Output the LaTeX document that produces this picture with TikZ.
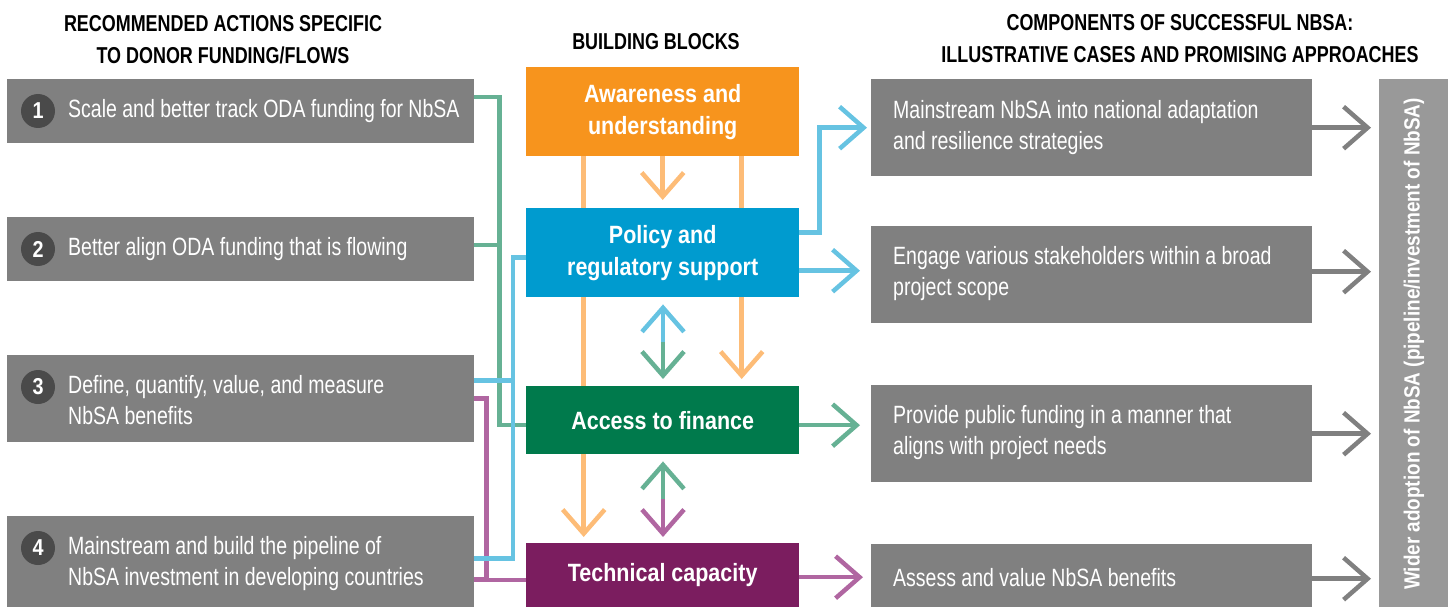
\documentclass[tikz,border=0pt]{standalone}
\usepackage{fontspec}
\setmainfont[FakeStretch=0.78,BoldFeatures={FakeStretch=0.86}]{Liberation Sans}
\newfontfamily\hfont[FakeStretch=0.78]{Liberation Sans}
\newfontfamily\vfont[FakeStretch=0.86]{Liberation Sans}
\usetikzlibrary{arrows.meta}
\pgfdeclarelayer{background}
\pgfsetlayers{background,main}
\definecolor{boxgray}{HTML}{808080}
\definecolor{circgray}{HTML}{4A4A4A}
\definecolor{orB}{HTML}{F7941D}
\definecolor{blB}{HTML}{009BCF}
\definecolor{grB}{HTML}{007A4C}
\definecolor{puB}{HTML}{7B1D5F}
\definecolor{lor}{HTML}{FDBC77}
\definecolor{lbl}{HTML}{66C3E2}
\definecolor{lgr}{HTML}{66B194}
\definecolor{lpu}{HTML}{B066A1}
\definecolor{bargray}{HTML}{999999}
\tikzset{
  lbox/.style={fill=boxgray, inner sep=0pt, anchor=north west},
  btxt/.style={text=white, anchor=west, align=left, inner sep=0pt, font=\fontsize{25}{31}\selectfont},
  num/.style={circle, fill=circgray, minimum size=34pt, inner sep=0pt, text=white, font=\fontsize{23}{23}\selectfont\bfseries},
  blk/.style={inner sep=0pt, anchor=north west, minimum width=273pt, text=white, align=center, font=\fontsize{25}{32}\selectfont\bfseries},
  head/.style={align=center, font=\fontsize{23}{32}\selectfont\hfont\bfseries},
  conn/.style={line width=4.5pt},
  arr/.style={-{Straight Barb[length=24pt,width=42pt,line width=4.5pt,sharp]}},
}
\begin{document}
\begin{tikzpicture}[x=1pt,y=-1pt]
\useasboundingbox (0,0) rectangle (1448,607);
% headers
\node[head] (h1) at (223,40) {RECOMMENDED ACTIONS SPECIFIC\\TO DONOR FUNDING/FLOWS};
\node[head] (h2) at (656,42) {BUILDING BLOCKS};
\node[head] (h3) at (1180,39) {COMPONENTS OF SUCCESSFUL NBSA:\\ILLUSTRATIVE CASES AND PROMISING APPROACHES};
% left boxes
\node[lbox, minimum width=467pt, minimum height=64pt] (b1) at (7,79) {};
\node[lbox, minimum width=467pt, minimum height=64pt] (b2) at (7,217) {};
\node[lbox, minimum width=467pt, minimum height=87pt] (b3) at (7,355) {};
\node[lbox, minimum width=467pt, minimum height=91pt] (b4) at (7,516) {};
\node[num] (n1) at (38,111) {1};
\node[num] (n2) at (38,249) {2};
\node[num] (n3) at (38,387) {3};
\node[num] (n4) at (38,548) {4};
\node[btxt] (t1) at (68,111) {Scale and better track ODA funding for NbSA};
\node[btxt] (t2) at (68,249) {Better align ODA funding that is flowing};
\node[btxt] (t3) at (68,400) {Define, quantify, value, and measure\\NbSA benefits};
\node[btxt] (t4) at (68,564) {Mainstream and build the pipeline of\\NbSA investment in developing countries};
% building blocks
\node[blk, fill=orB, minimum height=89pt] (aw) at (526,67) {Awareness and\\understanding};
\node[blk, fill=blB, minimum height=89pt] (pol) at (526,208) {Policy and\\regulatory support};
\node[blk, fill=grB, minimum height=68pt] (acc) at (526,386) {Access to finance};
\node[blk, fill=puB, minimum height=64pt] (tech) at (526,543) {Technical capacity};
% right boxes
\node[lbox, minimum width=441pt, minimum height=97pt] (r1) at (871,79) {};
\node[lbox, minimum width=441pt, minimum height=97pt] (r2) at (871,226) {};
\node[lbox, minimum width=441pt, minimum height=97pt] (r3) at (871,385) {};
\node[lbox, minimum width=441pt, minimum height=63pt] (r4) at (871,544) {};
\node[btxt] (s1) at (893,127.5) {Mainstream NbSA into national adaptation\\and resilience strategies};
\node[btxt] (s2) at (893,274) {Engage various stakeholders within a broad\\project scope};
\node[btxt] (s3) at (893,433) {Provide public funding in a manner that\\aligns with project needs};
\node[btxt] (s4) at (893,578) {Assess and value NbSA benefits};
% bar
\node[fill=bargray, inner sep=0pt, anchor=north west, minimum width=69pt, minimum height=528pt] (bar) at (1379,79) {};
\node[rotate=90, text=white, font=\fontsize{22}{22}\selectfont\vfont\bfseries] (bt) at (1414,344) {Wider adoption of NbSA (pipeline/investment of NbSA)};
\begin{pgfonlayer}{background}
% orange
\draw[conn, lor, arr, shorten >=6pt] ([xshift=-79pt]aw.south) -- ([xshift=-79pt]tech.north);
\draw[conn, lor, arr, shorten >=7pt] ([xshift=79pt]aw.south) -- ([xshift=79pt]acc.north);
\draw[conn, lor, arr, shorten >=8pt] (aw.south) -- (pol.north);
% double arrows
\coordinate (m1) at (663,342);
\coordinate (m2) at (663,499);
\draw[conn, lbl, arr, shorten >=7pt] (m1) -- (m1 |- pol.south);
\draw[conn, lgr, arr, shorten >=7pt] (m1) -- (m1 |- acc.north);
\draw[conn, lgr, arr, shorten >=7pt] (m2) -- (m2 |- acc.south);
\draw[conn, lpu, arr, shorten >=6pt] (m2) -- (m2 |- tech.north);
% left connectors
\draw[conn, lpu] (b3.east) -- ++(12,0) |- ([yshift=-5pt]tech.west);
\draw[conn, lpu] ([yshift=-18pt]b4.east) -- ++(12,0);
\draw[conn, lgr] ([yshift=14pt]b1.east) -- ++(25,0) |- ([yshift=-5pt]acc.west);
\draw[conn, lgr] ([yshift=4pt]b2.east) -- ++(25,0);
\draw[conn, lbl] ([yshift=3pt]b4.east) -| ([xshift=-13pt,yshift=-5pt]pol.west) -- ([yshift=-5pt]pol.west);
\draw[conn, lbl] ([yshift=18pt]b3.east) -- ++(39,0);
% right connectors
\draw[conn, lbl, arr, shorten >=4pt] ([yshift=20pt]pol.east) -- ++(20,0) |- (r1.west);
\draw[conn, lbl, arr, shorten >=11pt] ([yshift=-18pt]pol.east) -- ([yshift=-18pt]pol.east -| r2.west);
\draw[conn, lgr, arr, shorten >=11pt] ([yshift=-5pt]acc.east) -- ([yshift=-5pt]acc.east -| r3.west);
\draw[conn, lpu, arr, shorten >=8pt] ([yshift=-2pt]tech.east) -- ([yshift=-2pt]tech.east -| r4.west);
% gray
\draw[conn, boxgray, arr, shorten >=8pt] (r1.east) -- (r1.east -| bar.west);
\draw[conn, boxgray, arr, shorten >=8pt] ([yshift=3pt]r2.east) -- ([yshift=3pt]r2.east -| bar.west);
\draw[conn, boxgray, arr, shorten >=8pt] (r3.east) -- (r3.east -| bar.west);
\draw[conn, boxgray, arr, shorten >=8pt] ([yshift=-3pt]r4.east) -- ([yshift=-3pt]r4.east -| bar.west);
\end{pgfonlayer}
\end{tikzpicture}
\end{document}
